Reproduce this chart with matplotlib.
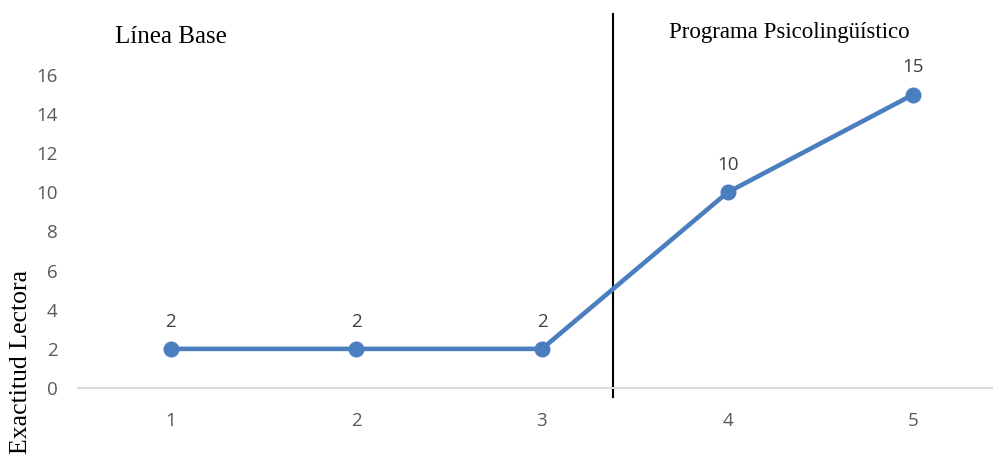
import matplotlib
matplotlib.use("Agg")
import matplotlib.pyplot as plt

# -- data -----------------------------------------------------------------------
sessions = [1, 2, 3, 4, 5]
exactitud = [2, 2, 2, 10, 15]
y_ticks = [0, 2, 4, 6, 8, 10, 12, 14, 16]
phase_split = 3.38
phase_labels = ["Línea Base", "Programa Psicolingüístico"]
y_label = "Exactitud Lectora"

BLUE = "#4A7EBF"
SERIF = "Liberation Serif"
SANS = "Open Sans"

fig = plt.figure(figsize=(9.93, 4.57), dpi=100)
ax = fig.add_axes([78 / 993, 69 / 457, 1 - 78 / 993, (382 - 69) / 457])

ax.plot(sessions, exactitud, color=BLUE, lw=3.3, marker="o", ms=10.5,
        solid_capstyle="round", clip_on=False, zorder=3)
for x, v in zip(sessions, exactitud):
    ax.annotate(str(v), (x, v), xytext=(0, 19.5), textcoords="offset points",
                ha="center", va="center", fontsize=13.5, color="#404040",
                family=SANS)

ax.set_xlim(0.5, 5.43)
ax.set_ylim(0, 16)
ax.set_xticks(sessions)
ax.set_yticks(y_ticks)
ax.tick_params(length=0, labelsize=13.5, labelcolor="#595959")
ax.tick_params(axis="x", pad=17)
ax.tick_params(axis="y", pad=14.5)
for lab in ax.get_xticklabels() + ax.get_yticklabels():
    lab.set_family(SANS)

for s in ["top", "right", "left"]:
    ax.spines[s].set_visible(False)
ax.spines["bottom"].set_color("#D9D9D9")
ax.spines["bottom"].set_linewidth(1.5)

# phase change line
ax.plot([phase_split, phase_split], [-0.46, 19.1], color="black", lw=1.5,
        clip_on=False, zorder=2)

ax.text(1.0, 17.65, phase_labels[0], ha="center", va="baseline",
        fontsize=18, family=SERIF, color="black")
ax.text(4.33, 17.9, phase_labels[1], ha="center", va="baseline",
        fontsize=16.5, family=SERIF, color="black")

fig.text(21 / 993, 1 - 270 / 457, y_label, rotation=90, ha="center",
         va="top", fontsize=18.5, family=SERIF, color="black")

fig.savefig("out.png", dpi=100)
